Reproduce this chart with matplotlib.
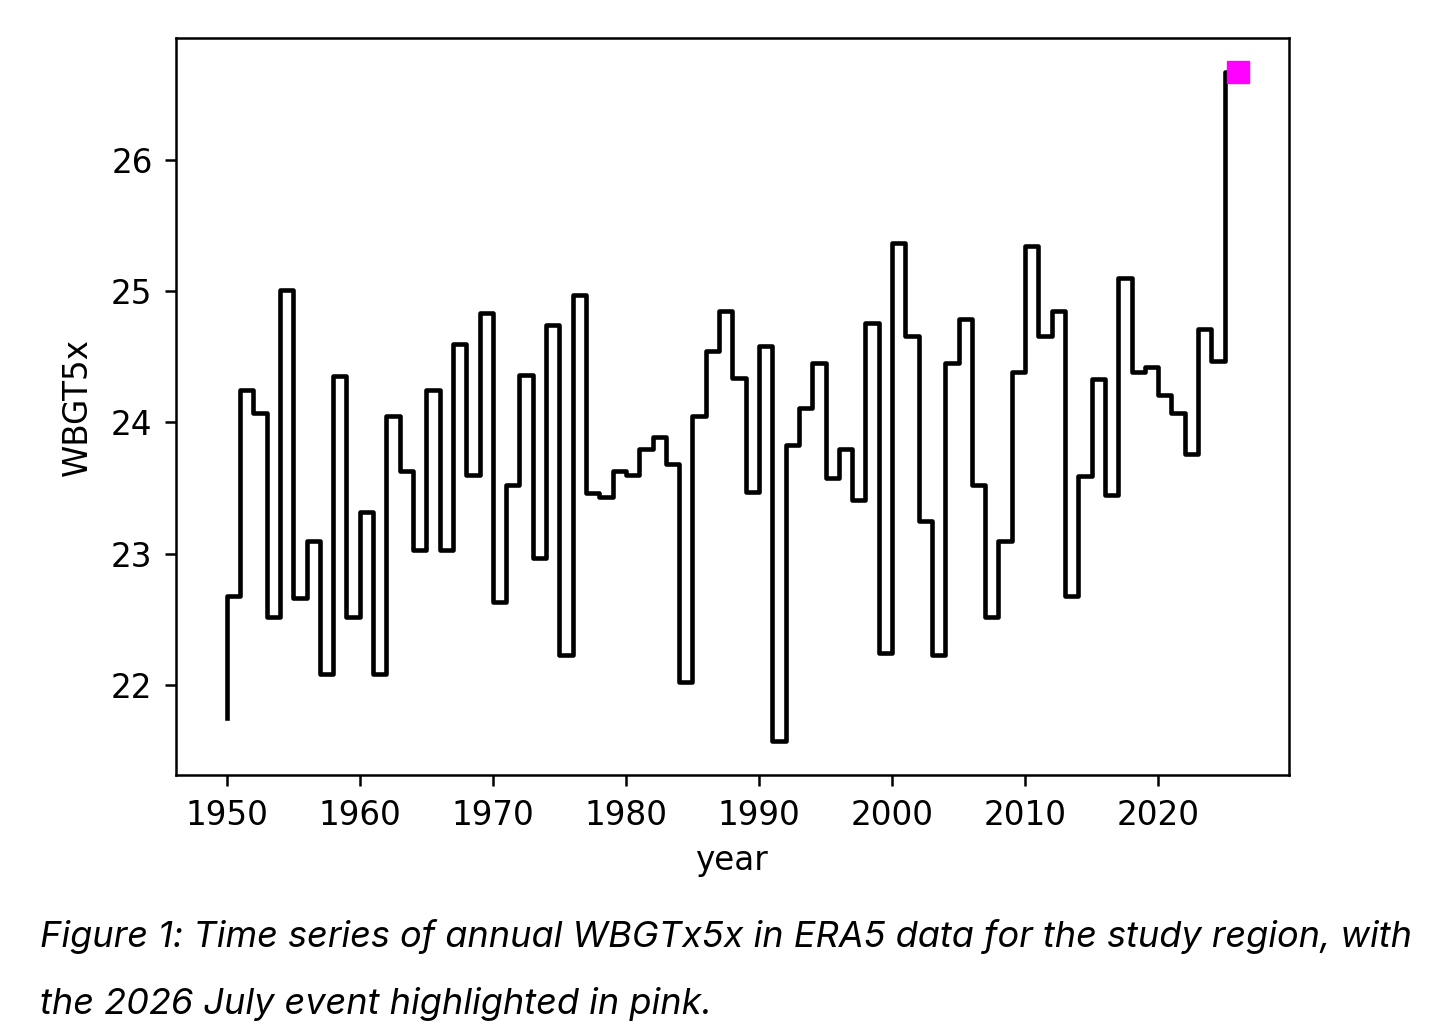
import matplotlib
matplotlib.use('Agg')
import matplotlib.pyplot as plt
import numpy as np

# annual WBGTx5x values (step plot, where='pre')
years = np.arange(1950, 2027)
wbgt = [21.75, 22.68, 24.25, 24.07, 22.52, 25.01, 22.66, 23.10, 22.08, 24.35,
        22.52, 23.32, 22.08, 24.05, 23.63, 23.03, 24.25, 23.03, 24.60, 23.60,
        24.83, 22.63, 23.52, 24.36, 22.97, 24.74, 22.23, 24.97, 23.46, 23.43,
        23.63, 23.60, 23.80, 23.89, 23.68, 22.02, 24.05, 24.54, 24.85, 24.34,
        23.47, 24.58, 21.57, 23.83, 24.11, 24.45, 23.58, 23.80, 23.41, 24.76,
        22.24, 25.37, 24.66, 23.25, 22.23, 24.45, 24.79, 23.52, 22.52, 23.10,
        24.38, 25.34, 24.66, 24.85, 22.68, 23.59, 24.33, 23.45, 25.10, 24.38,
        24.42, 24.21, 24.07, 23.76, 24.71, 24.47, 26.67]

event_year = 2026
event_value = 26.67

caption_1 = 'Figure 1: Time series of annual WBGTx5x in ERA5 data for the study region, with'
caption_2 = 'the 2026 July event highlighted in pink.'

fig = plt.figure(figsize=(14.56, 10.36), dpi=100)
ax = fig.add_axes([0.121, 0.252, 0.764, 0.711])

ax.step(years, wbgt, color='k', linewidth=3.3)
ax.plot(event_year, event_value, 's', color='magenta', markersize=15.5)

ax.set_xticks([1950, 1960, 1970, 1980, 1990, 2000, 2010, 2020])
ax.set_yticks([22, 23, 24, 25, 26])
ax.tick_params(labelsize=23.5, width=1.8, length=8, pad=9)
for s in ax.spines.values():
	s.set_linewidth(1.8)

ax.set_xlabel('year', fontsize=23.5, labelpad=9)
ax.set_ylabel('WBGT5x', fontsize=23.5, labelpad=12)

fig.text(40/1456, 1-947/1036, caption_1, fontsize=26, family='Inter',
	style='italic', ha='left', va='baseline')
fig.text(40/1456, 1-1014/1036, caption_2, fontsize=26, family='Inter',
	style='italic', ha='left', va='baseline')

fig.savefig('out.png', dpi=100)
